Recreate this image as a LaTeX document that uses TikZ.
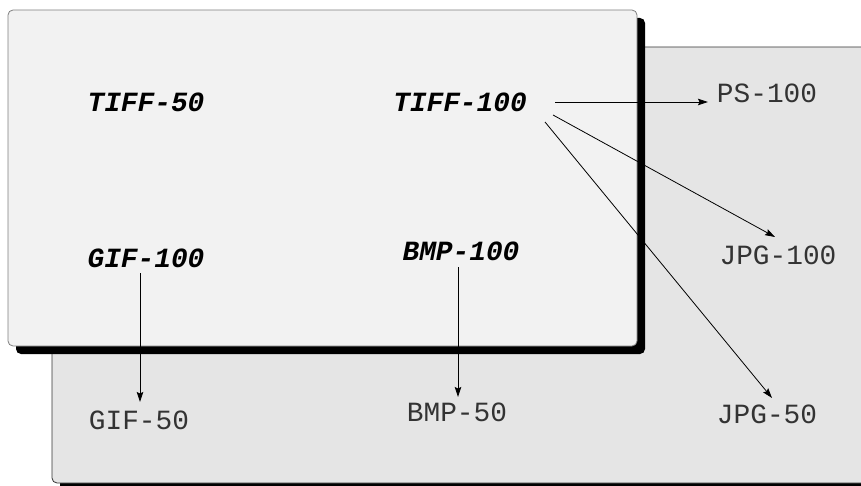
\documentclass[tikz,border=0pt]{standalone}
\usepackage{fontspec}
\setmonofont{Liberation Mono}
\usetikzlibrary{calc,arrows.meta}
\definecolor{frontfill}{HTML}{F2F2F2}
\definecolor{backfill}{HTML}{E5E5E5}
\definecolor{txt}{HTML}{333333}
\begin{document}
\begin{tikzpicture}[x=1pt,y=-1pt,
  lbl/.style={anchor=base,inner sep=0pt,font=\fontsize{27.8}{30}\selectfont\ttfamily,text=txt},
  blbl/.style={anchor=base,inner sep=0pt,font=\fontsize{27.8}{30}\selectfont\ttfamily\bfseries\itshape,text=black},
  conn/.style={draw=black,line width=0.8pt,-{Stealth[length=10pt,width=6.5pt,inset=1.5pt]}},
  panel/.style={rounded corners=5pt,line width=0.8pt}]
\useasboundingbox (0,0) rectangle (861,486);
\begin{scope}
\clip (0,0) rectangle (861,486);
% back panel
\fill[black,rounded corners=5pt] (60,55) rectangle (880,491);
\filldraw[panel,fill=backfill,draw=txt] (52,47) rectangle (872,483);
% front panel
\fill[black,rounded corners=5pt] (16,18) rectangle (645,354);
\filldraw[panel,fill=frontfill,draw=gray] (8,10) rectangle (637,346);
\end{scope}
% nodes
\node[blbl] (tiff50) at (146,112) {TIFF-50};
\node[blbl] (tiff100) at (460,112) {TIFF-100};
\node[blbl] (gif100) at (146,267) {GIF-100};
\node[blbl] (bmp100) at (461,260) {BMP-100};
\node[lbl] (ps100) at (767,103) {PS-100};
\node[lbl] (jpg100) at (778,264) {JPG-100};
\node[lbl] (gif50) at (139,429) {GIF-50};
\node[lbl] (bmp50) at (457,421) {BMP-50};
\node[lbl] (jpg50) at (767,423) {JPG-50};
% connectors
\draw[conn] ($(tiff100.base)+(95,-10)$) -- ($(ps100.base)+(-59,-1)$);
\draw[conn] ($(tiff100.base)+(93,3)$) -- ($(jpg100.base)+(-3,-27)$);
\draw[conn] ($(tiff100.base)+(85,10)$) -- ($(jpg50.base)+(5,-25)$);
\draw[conn] ($(gif100.base)+(-6,6)$) -- ($(gif50.base)+(1,-27)$);
\draw[conn] ($(bmp100.base)+(-3,7)$) -- ($(bmp50.base)+(1,-24)$);
\end{tikzpicture}
\end{document}
